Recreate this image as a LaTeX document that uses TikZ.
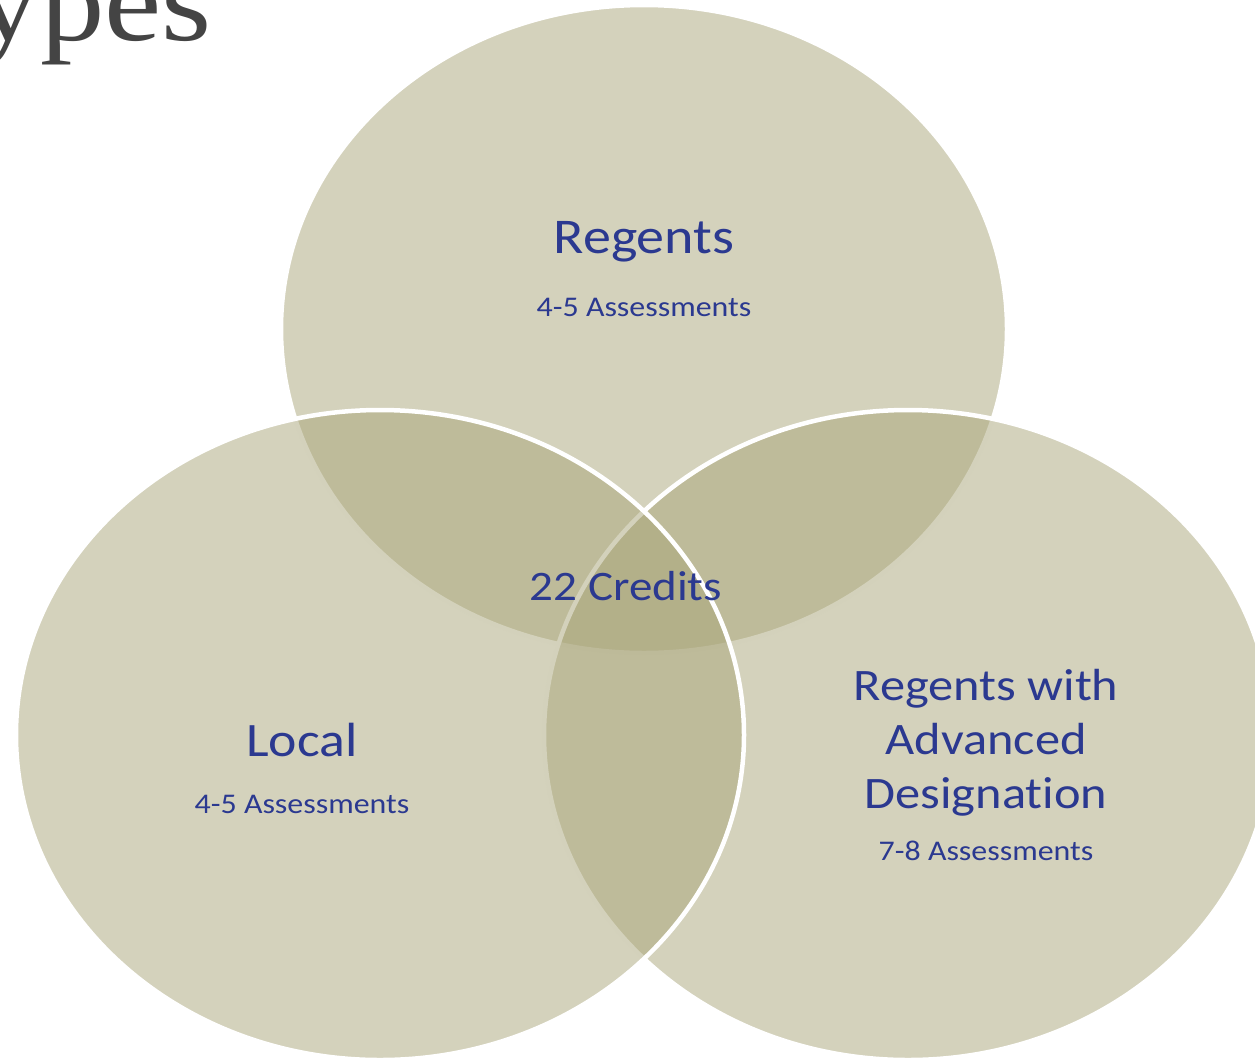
\documentclass[tikz,border=0pt]{standalone}
\usepackage{fontspec}
\setmainfont{Carlito}[FakeStretch=1.12, Ligatures=NoCommon, RawFeature={-liga}]
\newfontfamily\titlefont{Liberation Serif}[FakeStretch=1.12]
\definecolor{vennfill}{RGB}{169,165,121}
\definecolor{venntext}{RGB}{43,57,144}
\definecolor{titlegray}{RGB}{68,68,68}
\begin{document}
\begin{tikzpicture}[x=1pt,y=-1pt,
  venn/.style={fill=vennfill, fill opacity=0.5, draw=white, draw opacity=1, line width=4.5pt},
  bigtext/.style={text=venntext, align=center, anchor=base, inner sep=0pt},
  smalltext/.style={text=venntext, font=\fontsize{28.5}{34}\selectfont, anchor=base, inner sep=0pt}]
\useasboundingbox (0,0) rectangle (1255,1061);
\begin{scope}
\clip (0,0) rectangle (1255,1061);
\draw[venn] (644,329) ellipse [x radius=363, y radius=324];
\draw[venn] (908,735) ellipse [x radius=364, y radius=325];
\draw[venn] (380,735) ellipse [x radius=364, y radius=325];
\node[anchor=base east, inner sep=0pt, text=titlegray, font=\titlefont\fontsize{115}{120}\selectfont] (title) at (212,40) {ypes};
\end{scope}
\node[bigtext, font=\fontsize{50}{54}\selectfont] (regents) at (644,253) {Regents};
\node[smalltext] (regentsa) at (644,316) {4-5 Assessments};
\node[bigtext, font=\fontsize{48}{54}\selectfont] (local) at (302,756) {Local};
\node[smalltext] (locala) at (302,813) {4-5 Assessments};
\node[bigtext, font=\fontsize{45}{54}\selectfont] (adv) at (986,808) {Regents with\\Advanced\\Designation};
\node[smalltext] (adva) at (986,860) {7-8 Assessments};
\node[bigtext, font=\fontsize{42}{54}\selectfont] (credits) at (626,600) {22 Credits};
\end{tikzpicture}
\end{document}
